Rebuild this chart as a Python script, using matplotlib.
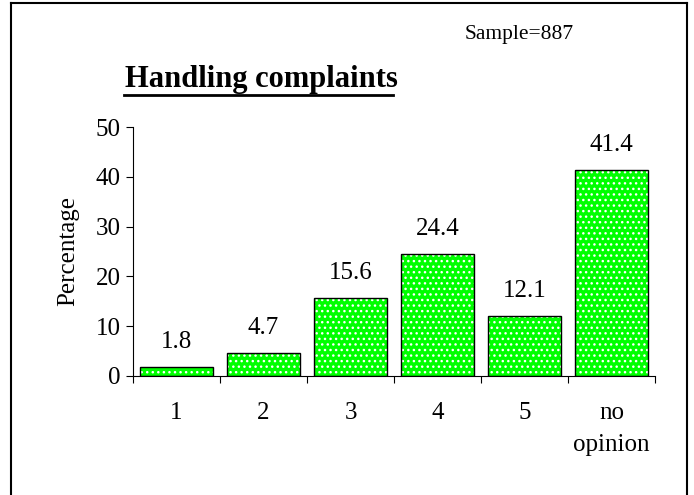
import matplotlib.pyplot as plt
from matplotlib.lines import Line2D

# chart data
categories = ["1", "2", "3", "4", "5", "no\nopinion"]
percentages = [1.8, 4.7, 15.6, 24.4, 12.1, 41.4]
title = "Handling complaints"
sample_note = "Sample=887"

plt.rcParams['font.family'] = ['Liberation Serif', 'DejaVu Serif']

fig = plt.figure(figsize=(6.94, 4.95), dpi=100)
W, H = 694, 495

# outer frame (left, top, right only)
fig.add_artist(Line2D([11 / W, 11 / W], [0, 1 - 3 / H], color='black', lw=1.5))
fig.add_artist(Line2D([11 / W, 687 / W], [1 - 3 / H, 1 - 3 / H], color='black', lw=1.5))
fig.add_artist(Line2D([687 / W, 687 / W], [0, 1 - 3 / H], color='black', lw=1.5))

ax = fig.add_axes([133 / W, 1 - 376 / H, (655 - 133) / W, (376 - 127) / H])

x = list(range(len(categories)))
# green fill with white dot hatch, then black outline
ax.bar(x, percentages, width=0.84, color='#00ff00', edgecolor='white',
       hatch='...', linewidth=0, zorder=2)
ax.bar(x, percentages, width=0.84, fill=False, edgecolor='black',
       linewidth=1.0, zorder=3)

for xi, v in zip(x, percentages):
    ax.annotate(f"{v}", (xi, v), xytext=(0, 25), textcoords='offset pixels',
                ha='center', va='center', fontsize=18)

ax.set_xlim(-0.5, len(categories) - 0.5)
ax.set_ylim(0, 50)
ax.set_yticks([0, 10, 20, 30, 40, 50])
ax.tick_params(axis='y', labelsize=18, length=5, direction='out', pad=4)

# ticks at category boundaries, labels at centres
ax.set_xticks([i - 0.5 for i in range(len(categories) + 1)])
ax.set_xticklabels([])
ax.set_xticks(x, minor=True)
ax.set_xticklabels(categories, minor=True, fontsize=18, linespacing=1.55)
ax.tick_params(axis='x', which='major', length=5, direction='out')
ax.tick_params(axis='x', which='minor', length=0, pad=19)
for lbl in ax.get_xticklabels(minor=True):
    lbl.set_verticalalignment('top')

ax.spines['top'].set_visible(False)
ax.spines['right'].set_visible(False)
ax.set_ylabel("Percentage", fontsize=18, labelpad=12)

fig.text(125 / W, 1 - 80 / H, title, fontsize=22, fontweight='bold',
         ha='left', va='center')
fig.add_artist(Line2D([124 / W, 393 / W], [1 - 95 / H, 1 - 95 / H],
                      color='black', lw=2))
fig.text(519 / W, 1 - 35 / H, sample_note, fontsize=15.5, ha='center', va='center')

fig.savefig("out.png", dpi=100)
